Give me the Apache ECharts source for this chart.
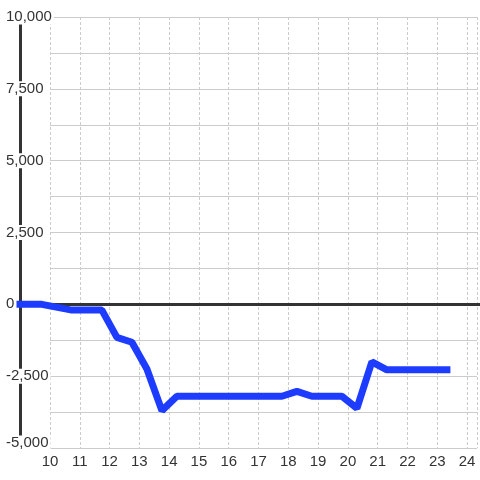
<!DOCTYPE html>
<html>
<head>
<meta charset="utf-8">
<script src="https://cdn.jsdelivr.net/npm/echarts@6/dist/echarts.min.js"></script>
<style>
  html, body { margin: 0; padding: 0; background: #fff; }
  #chart { width: 480px; height: 480px; }
</style>
</head>
<body>
<div id="chart"></div>
<script>
// hours (x) and values (y)
var hours = [9, 9.73, 10.73, 11.23, 11.73, 12.23, 12.73, 13.23, 13.73, 14.23, 14.73, 15.23, 15.73,
  16.23, 16.73, 17.23, 17.73, 18.23, 18.73, 19.23, 19.73, 20.23, 20.73, 21.23, 21.73, 22.23, 22.73, 23.23];
var values = [0, 0, -200, -200, -200, -1150, -1320, -2250, -3700, -3200, -3200, -3200, -3200,
  -3200, -3200, -3200, -3200, -3030, -3200, -3200, -3200, -3620, -2000, -2280, -2280, -2280, -2280, -2280];
var yTicks = [-5000, -2500, 0, 2500, 5000, 7500, 10000];

var points = hours.map(function (h, i) { return [h, values[i]]; });
var font = "'Liberation Sans', Arial, sans-serif";

var myChart = echarts.init(document.getElementById("chart"));
var option = {
  animation: false,
  grid: [
    { left: 50, right: 0, top: 17, bottom: 32 }, // grid lines only
    { left: 20, right: 0, top: 17, bottom: 32 }  // data + axes
  ],
  xAxis: [
    {
      gridIndex: 0,
      type: "value",
      min: 10,
      max: 24.3333,
      interval: 1,
      axisLine: { show: false },
      axisTick: { show: false },
      axisLabel: {
        color: "#333",
        fontSize: 15,
        fontFamily: font,
        margin: 6,
        formatter: function (v) { return Number.isInteger(v) ? String(v) : ""; }
      },
      splitLine: {
        show: true,
        lineStyle: { color: "#ccc", width: 1, type: [3, 2] }
      }
    },
    {
      gridIndex: 1,
      type: "value",
      min: 9,
      max: 24.3333,
      axisLine: { show: true, onZero: true, lineStyle: { color: "#333", width: 3 } },
      axisTick: { show: false },
      axisLabel: { show: false },
      splitLine: { show: false }
    }
  ],
  yAxis: [
    {
      gridIndex: 0,
      type: "value",
      min: -5000,
      max: 10000,
      interval: 1250,
      axisLine: { show: false },
      axisTick: { show: false },
      axisLabel: { show: false },
      splitLine: { show: true, lineStyle: { color: "#ccc", width: 1 } }
    },
    {
      gridIndex: 1,
      type: "value",
      min: -5000,
      max: 10000,
      interval: 2500,
      axisLine: { show: true, lineStyle: { color: "#333", width: 3 } },
      axisTick: { show: false },
      splitLine: { show: false },
      axisLabel: {
        color: "#333",
        fontSize: 15,
        fontFamily: font,
        align: "left",
        margin: 16,
        backgroundColor: "#fff",
        padding: [0, 2],
        formatter: function (v) {
          if (yTicks.indexOf(v) < 0) return "";
          var s = v.toLocaleString("en-US");
          return v === -5000 ? "{m|" + s + "}" : s;
        },
        rich: {
          m: { color: "#333", fontSize: 15, fontFamily: font, padding: [0, 0, 10, 0] }
        }
      }
    }
  ],
  series: [
    {
      type: "line",
      xAxisIndex: 1,
      yAxisIndex: 1,
      data: points,
      showSymbol: false,
      clip: false,
      lineStyle: { color: "#1e3cff", width: 7, cap: "square" }
    }
  ]
};
myChart.setOption(option);
window.addEventListener("resize", function () {
  myChart.resize();
});
</script>
</body>
</html>
